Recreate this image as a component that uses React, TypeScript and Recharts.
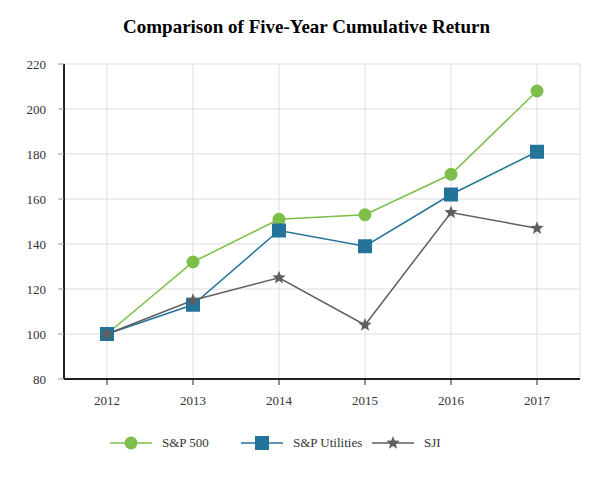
import React from 'react'
import { CartesianGrid, Line, LineChart, XAxis, YAxis } from 'recharts'

const years = ['2012', '2013', '2014', '2015', '2016', '2017']
const sp500 = [100, 132, 151, 153, 171, 208]
const spUtilities = [100, 113, 146, 139, 162, 181]
const sji = [100, 115, 125, 104, 154, 147]
const yTicks = [80, 100, 120, 140, 160, 180, 200, 220]

const GREEN = '#7dbf4a'
const BLUE = '#24739a'
const GREY = '#5f5f5f'
const FONT = 'Liberation Serif, serif'

const data = years.map((y, i) => ({ year: y, sp500: sp500[i], util: spUtilities[i], sji: sji[i] }))

function starPath(cx: number, cy: number, R: number, r: number) {
  let d = ''
  for (let i = 0; i < 10; i++) {
    const rad = i % 2 === 0 ? R : r
    const a = -Math.PI / 2 + (i * Math.PI) / 5
    d += `${i === 0 ? 'M' : 'L'}${cx + rad * Math.cos(a)},${cy + rad * Math.sin(a)}`
  }
  return d + 'Z'
}

const CircleDot = (p: any) => <circle key={p.index} cx={p.cx} cy={p.cy} r={6.5} fill={GREEN} />
const SquareDot = (p: any) => <rect key={p.index} x={p.cx - 7} y={p.cy - 7} width={14} height={14} fill={BLUE} />
const StarDot = (p: any) => <path key={p.index} d={starPath(p.cx, p.cy, 7, 3)} fill={GREY} />

const XTick = (p: any) => (
  <text x={p.x} y={p.y + 18} textAnchor="middle" fontFamily={FONT} fontSize={13} fill="#333">
    {p.payload.value}
  </text>
)
const YTick = (p: any) => (
  <text x={p.x - 10} y={p.y + 5} textAnchor="end" fontFamily={FONT} fontSize={13} fill="#333">
    {p.payload.value}
  </text>
)

function LegendItem({ color, label, marker }: { color: string; label: string; marker: 'circle' | 'square' | 'star' }) {
  return (
    <div style={{ display: 'flex', alignItems: 'center', marginRight: 8 }}>
      <svg width={42} height={16}>
        <line x1={0} y1={8} x2={42} y2={8} stroke={color} strokeWidth={1.5} />
        {marker === 'circle' && <circle cx={21} cy={8} r={6.5} fill={color} />}
        {marker === 'square' && <rect x={14} y={1} width={14} height={14} fill={color} />}
        {marker === 'star' && <path d={starPath(21, 8, 7, 3)} fill={color} />}
      </svg>
      <span style={{ marginLeft: 10, fontSize: 13, color: '#333' }}>{label}</span>
    </div>
  )
}

export default function App() {
  return (
    <div style={{ position: 'absolute', left: 0, top: 0, width: 613, height: 480, background: '#fff', fontFamily: FONT }}>
      <div style={{ position: 'absolute', top: 16, left: 0, width: 613, textAlign: 'center', fontWeight: 700, fontSize: 19, color: '#000' }}>
        Comparison of Five-Year Cumulative Return
      </div>
      <LineChart width={613} height={480} data={data} margin={{ top: 64, right: 33, left: 0, bottom: 71 }}>
        <CartesianGrid stroke="#dddddd" />
        <XAxis
          dataKey="year"
          height={30}
          padding={{ left: 43, right: 43 }}
          tick={XTick}
          axisLine={{ stroke: '#222', strokeWidth: 2 }}
          tickLine={{ stroke: '#222' }}
          tickSize={6}
        />
        <YAxis
          width={64}
          domain={[80, 220]}
          ticks={yTicks}
          tick={YTick}
          axisLine={{ stroke: '#222', strokeWidth: 2 }}
          tickLine={{ stroke: '#999' }}
          tickSize={6}
        />
        <Line dataKey="sp500" stroke={GREEN} strokeWidth={1.5} dot={CircleDot} activeDot={false} isAnimationActive={false} />
        <Line dataKey="util" stroke={BLUE} strokeWidth={1.5} dot={SquareDot} activeDot={false} isAnimationActive={false} />
        <Line dataKey="sji" stroke={GREY} strokeWidth={1.5} dot={StarDot} activeDot={false} isAnimationActive={false} />
      </LineChart>
      <div style={{ position: 'absolute', top: 435, left: 110, display: 'flex' }}>
        <div style={{ width: 131 }}><LegendItem color={GREEN} label="S&P 500" marker="circle" /></div>
        <div style={{ width: 131 }}><LegendItem color={BLUE} label="S&P Utilities" marker="square" /></div>
        <LegendItem color={GREY} label="SJI" marker="star" />
      </div>
    </div>
  )
}
